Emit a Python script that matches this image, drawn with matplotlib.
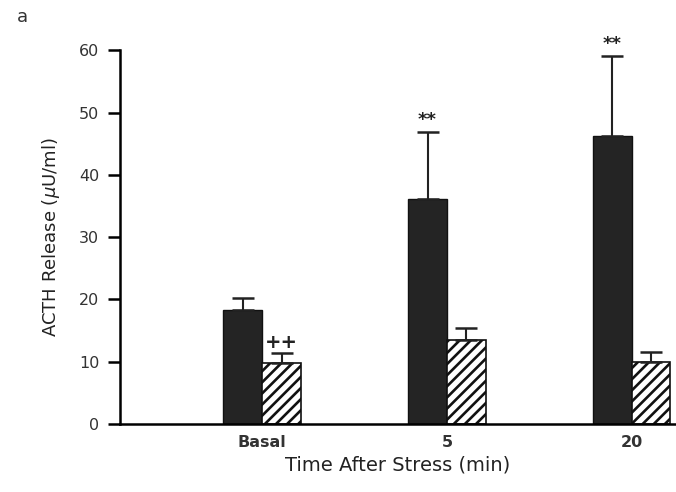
import numpy as np
import matplotlib
matplotlib.use("Agg")
import matplotlib.pyplot as plt

groups = ["Basal", "5", "20"]
stress_mean = [18.3, 36.1, 46.2]
stress_err = [1.9, 10.8, 12.9]
treated_mean = [9.8, 13.5, 10.0]
treated_err = [1.6, 1.9, 1.6]
stress_marks = ["", "**", "**"]
treated_marks = ["++", "", ""]

plt.rcParams['font.family'] = ['DejaVu Sans']
plt.rcParams['hatch.linewidth'] = 1.9

fig = plt.figure(figsize=(6.76, 4.92), dpi=100)
ax = fig.add_axes([0.1775, 0.138, 0.8225, 0.76])

x = np.arange(len(groups))
w = 0.21
ax.bar(x - w / 2, stress_mean, w, color="#242424", edgecolor="#111111", linewidth=1)
ax.bar(x + w / 2, treated_mean, w, color="white", edgecolor="#111111",
       hatch="///", linewidth=1.2)
ax.errorbar(x - w / 2, stress_mean, yerr=[np.zeros(3), stress_err], fmt="none",
            ecolor="#222222", elinewidth=1.5, capsize=8, capthick=1.8)
ax.errorbar(x + w / 2, treated_mean, yerr=[np.zeros(3), treated_err], fmt="none",
            ecolor="#222222", elinewidth=1.5, capsize=8, capthick=1.8)

for i in range(len(groups)):
    if stress_marks[i]:
        ax.text(x[i] - w / 2, stress_mean[i] + stress_err[i] + 0.4, stress_marks[i],
                ha="center", va="bottom", fontsize=13, fontweight="bold", color="#222222")
    if treated_marks[i]:
        ax.text(x[i] + w / 2, treated_mean[i] + treated_err[i] + 0.1, treated_marks[i],
                ha="center", va="bottom", fontsize=14, fontweight="bold", color="#222222")

ax.set_xlim(-0.77, 2.24)
ax.set_ylim(0, 60)
ax.set_yticks([0, 10, 20, 30, 40, 50, 60])
ax.set_xticks(x)
ax.set_xticklabels(groups, fontsize=11.5, fontweight="bold", color="#333333")
ax.tick_params(axis="x", length=0, pad=8)
ax.tick_params(axis="y", length=9, width=1.8, labelsize=11.5, labelcolor="#333333", pad=6)

for s in ["top", "right"]:
    ax.spines[s].set_visible(False)
ax.spines["left"].set_linewidth(1.8)
ax.spines["bottom"].set_linewidth(1.8)

ax.set_xlabel("Time After Stress (min)", fontsize=14, color="#222222", labelpad=4)
ax.set_ylabel("ACTH Release ($\\mu$U/ml)", fontsize=13, color="#222222", labelpad=12)
fig.text(0.025, 0.965, "a", fontsize=13, color="#333333", va="center")

fig.savefig("out.png", dpi=100)
